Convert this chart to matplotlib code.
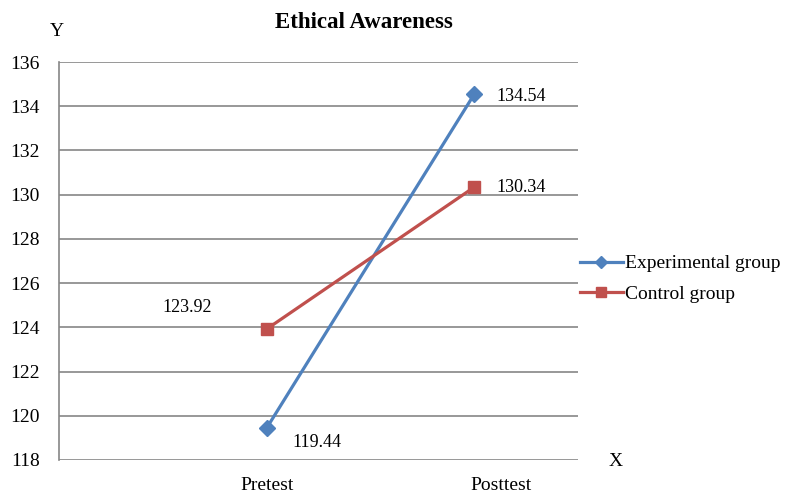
import matplotlib.pyplot as plt
import matplotlib.transforms as mtransforms
from matplotlib.lines import Line2D

# data
categories = ['Pretest', 'Posttest']
experimental = [119.44, 134.54]
control = [123.92, 130.34]
y_ticks = list(range(118, 137, 2))

plt.rcParams['font.family'] = ['Liberation Serif', 'DejaVu Serif']

fig = plt.figure(figsize=(7.87, 4.93), dpi=100)
ax = fig.add_axes([59 / 787, 1 - 460 / 493, (578 - 59) / 787, (460 - 62) / 493])

xpos = [1, 2]
blue = '#4F81BD'
red = '#C0504D'

l1, = ax.plot(xpos, experimental, color=blue, lw=2.3, marker='D', ms=8,
              label='Experimental group')
l2, = ax.plot(xpos, control, color=red, lw=2.3, marker='s', ms=9,
              label='Control group')

ax.set_xlim(0, 2.5)
ax.set_ylim(118, 136)
ax.set_yticks(y_ticks)
ax.set_yticklabels([str(v) for v in y_ticks], fontsize=14)
ax.set_xticks(xpos)
ax.set_xticklabels(categories, fontsize=14)
ax.tick_params(axis='both', length=0)
ax.tick_params(axis='y', pad=14)
ax.tick_params(axis='x', pad=12)
# Posttest label sits a bit right of its point
off = mtransforms.ScaledTranslation(27 / 100, 0, fig.dpi_scale_trans)
lab = ax.get_xticklabels()[1]
lab.set_transform(lab.get_transform() + off)

ax.grid(axis='y', color='#868686', lw=1.2)
ax.set_axisbelow(True)
for s in ['top', 'right', 'bottom']:
    ax.spines[s].set_visible(False)
ax.spines['left'].set_color('#868686')
ax.spines['left'].set_linewidth(1.2)

# value labels
ax.annotate(f'{experimental[0]:.2f}', (xpos[0], experimental[0]), xytext=(26, -14),
            textcoords='offset pixels', fontsize=13, va='center', ha='left')
ax.annotate(f'{experimental[1]:.2f}', (xpos[1], experimental[1]), xytext=(22, -2),
            textcoords='offset pixels', fontsize=13, va='center', ha='left')
ax.annotate(f'{control[0]:.2f}', (xpos[0], control[0]), xytext=(-104, 22),
            textcoords='offset pixels', fontsize=13, va='center', ha='left')
ax.annotate(f'{control[1]:.2f}', (xpos[1], control[1]), xytext=(22, 0),
            textcoords='offset pixels', fontsize=13, va='center', ha='left')

fig.text(364 / 787, 1 - 22 / 493, 'Ethical Awareness', ha='center', va='center',
         fontsize=16.5, fontweight='bold')
fig.text(57 / 787, 1 - 32 / 493, 'Y', ha='center', va='center', fontsize=14)
fig.text(616 / 787, 1 - 461 / 493, 'X', ha='center', va='center', fontsize=14)

h1 = Line2D([], [], color=blue, lw=2.3, marker='D', ms=6)
h2 = Line2D([], [], color=red, lw=2.3, marker='s', ms=7)
fig.legend(handles=[h1, h2], labels=[l1.get_label(), l2.get_label()],
           loc='center left', bbox_to_anchor=(574 / 787, 1 - 279 / 493),
           frameon=False, fontsize=14, handlelength=2.2, handletextpad=0.1,
           labelspacing=0.68, borderpad=0, borderaxespad=0.3)

fig.savefig('out.png', dpi=100)
